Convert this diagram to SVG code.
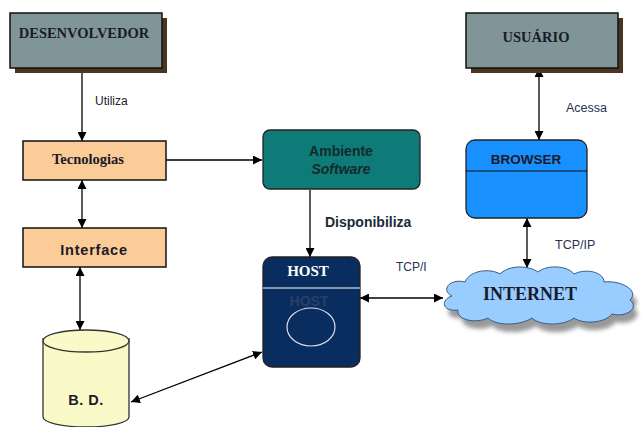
<svg xmlns="http://www.w3.org/2000/svg" width="642" height="427" viewBox="0 0 642 427">
<style>
.ser{font-family:"Liberation Serif","Times New Roman",serif;font-weight:bold}
.san{font-family:"Liberation Sans",Arial,sans-serif}
.b{font-weight:bold}
.ln{stroke:#000;stroke-width:1.3;fill:none}
.box{stroke:#111;stroke-width:1.5}
</style>
<defs>
<marker id="ah" viewBox="0 0 10 10" refX="10" refY="5" markerWidth="9" markerHeight="9" markerUnits="userSpaceOnUse" orient="auto-start-reverse">
<path d="M0,0 L10,5 L0,10 z" fill="#000"/>
</marker>
<filter id="blur" x="-10%" y="-20%" width="120%" height="140%"><feGaussianBlur stdDeviation="2"/></filter>
</defs>
<rect width="642" height="427" fill="#fff"/>

<g id="connectors">
<line class="ln" x1="82" y1="68" x2="82" y2="141" marker-end="url(#ah)"/>
<line class="ln" x1="82" y1="180" x2="82" y2="228" marker-start="url(#ah)" marker-end="url(#ah)"/>
<line class="ln" x1="80" y1="267" x2="80" y2="330" marker-start="url(#ah)" marker-end="url(#ah)"/>
<line class="ln" x1="166" y1="160" x2="262" y2="160" marker-end="url(#ah)"/>
<line class="ln" x1="310" y1="190" x2="310" y2="257" marker-end="url(#ah)"/>
<line class="ln" x1="131" y1="402" x2="262" y2="352" marker-start="url(#ah)" marker-end="url(#ah)"/>
<line class="ln" x1="360" y1="298" x2="443" y2="298" marker-start="url(#ah)" marker-end="url(#ah)"/>
<line class="ln" x1="527" y1="218" x2="527" y2="268" marker-start="url(#ah)" marker-end="url(#ah)"/>
<line class="ln" x1="539" y1="68" x2="539" y2="140" marker-start="url(#ah)" marker-end="url(#ah)"/>
<text class="san" x="95" y="105" font-size="12" fill="#222">Utiliza</text>
<text class="san b" x="325" y="227" font-size="14" fill="#1a2a3a">Disponibiliza</text>
<text class="san" x="396" y="271" font-size="12" fill="#2a3050">TCP/I</text>
<text class="san" x="555" y="249" font-size="12.5" fill="#2a3050">TCP/IP</text>
<text class="san" x="566" y="112" font-size="12.5" fill="#2a3050">Acessa</text>
</g>

<g id="desenvolvedor">
<rect x="15" y="18" width="152" height="55" fill="#4a3520"/>
<rect class="box" x="10" y="13" width="152" height="55" fill="#7f9598" stroke-width="2"/>
<text class="ser" x="84" y="38" font-size="14.5" text-anchor="middle" fill="#1a1a2a">DESENVOLVEDOR</text>
</g>

<g id="tecnologias">
<rect class="box" x="23" y="141" width="143" height="39" fill="#fbcb98" stroke="#333"/>
<text class="ser" x="88" y="164" font-size="14.5" text-anchor="middle" fill="#1a1a2a">Tecnologias</text>
</g>

<g id="interface">
<rect class="box" x="23" y="228" width="143" height="39" fill="#fbcb98" stroke="#333"/>
<text class="san b" x="94" y="255" font-size="14.5" text-anchor="middle" fill="#1a1a2a" letter-spacing="0.8">Interface</text>
</g>

<g id="bd">
<path d="M43,338 V417 A43,10 0 0 0 129,417 V338" fill="#fafac8" stroke="#333" stroke-width="1.3"/>
<ellipse cx="86" cy="341" rx="43" ry="11" fill="#fafac8" stroke="#333" stroke-width="1.3"/>
<text class="san b" x="86" y="405" font-size="14.5" text-anchor="middle" fill="#1a1a2a" letter-spacing="0.5">B. D.</text>
</g>

<g id="ambiente">
<rect x="263" y="130" width="157" height="59" rx="7" fill="#0e7b78" stroke="#222" stroke-width="1.3"/>
<text class="san b" x="341" y="156" font-size="14" text-anchor="middle" fill="#122a2a">Ambiente</text>
<text class="san b" x="341" y="174" font-size="14" text-anchor="middle" fill="#122a2a" font-style="italic">Software</text>
</g>

<g id="host">
<rect x="263" y="257" width="97" height="110" rx="9" fill="#0a2d5f" stroke="#222" stroke-width="1.3"/>
<line x1="263" y1="288" x2="360" y2="288" stroke="#fff" stroke-width="1"/>
<text class="ser" x="308" y="276" font-size="15" text-anchor="middle" fill="#fff">HOST</text>
<text class="san b" x="309" y="306" font-size="14" text-anchor="middle" fill="#2b3f63">HOST</text>
<ellipse cx="311" cy="327" rx="24" ry="19" fill="none" stroke="#dde" stroke-width="1.2"/>
</g>

<g id="internet">
<path transform="translate(4,8)" filter="url(#blur)" fill="#999" d="M452,296 C440,290 450,278 465,282 C470,270 490,268 500,274 C510,264 530,266 538,272 C548,264 568,266 574,274 C586,268 604,272 604,282 C620,280 640,290 630,300 C640,308 626,318 612,314 C604,324 582,324 574,318 C564,326 540,326 532,318 C520,326 496,326 488,318 C476,324 456,320 458,310 C442,312 440,300 452,296 Z"/>
<path fill="#99ccff" stroke="#3a5a80" stroke-width="1" d="M452,296 C440,290 450,278 465,282 C470,270 490,268 500,274 C510,264 530,266 538,272 C548,264 568,266 574,274 C586,268 604,272 604,282 C620,280 640,290 630,300 C640,308 626,318 612,314 C604,324 582,324 574,318 C564,326 540,326 532,318 C520,326 496,326 488,318 C476,324 456,320 458,310 C442,312 440,300 452,296 Z"/>
<text class="ser" x="530" y="300" font-size="18" text-anchor="middle" fill="#1a1a2a">INTERNET</text>
</g>

<g id="browser">
<rect x="466" y="140" width="121" height="78" rx="9" fill="#1890ff" stroke="#222" stroke-width="1.3"/>
<line x1="466" y1="171" x2="587" y2="171" stroke="#111" stroke-width="1.2"/>
<text class="san b" x="526" y="164" font-size="13.5" text-anchor="middle" fill="#1a1a2a">BROWSER</text>
</g>

<g id="usuario">
<rect x="471" y="18" width="152" height="55" fill="#4a3520"/>
<rect class="box" x="466" y="13" width="152" height="55" fill="#7f9598" stroke-width="2"/>
<text class="ser" x="536" y="42" font-size="14.5" text-anchor="middle" fill="#1a1a2a">USUÁRIO</text>
</g>
</svg>
